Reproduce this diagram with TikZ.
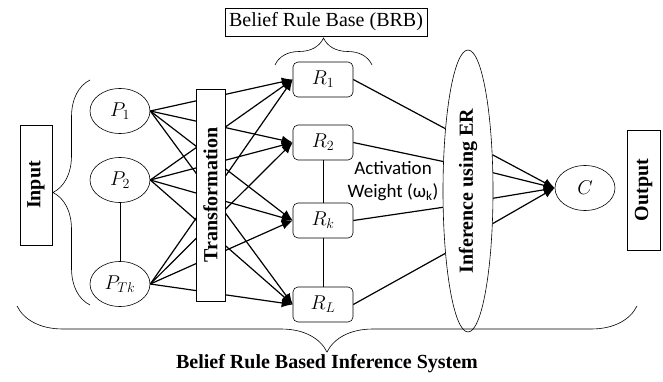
\RequirePackage{fix-cm}
\documentclass[tikz,border=0pt]{standalone}
\usepackage{fontspec}
\setmainfont{Liberation Serif}
\newfontfamily\calfont{Carlito}
\usetikzlibrary{shapes,arrows.meta,decorations.pathreplacing}

\begin{document}
\begin{tikzpicture}[x=10pt,y=10pt,
    font=\fontsize{20}{24}\selectfont,
    pnode/.style={draw, ellipse, line width=0.6pt, minimum width=60pt, minimum height=45pt, inner sep=0pt},
    rnode/.style={draw, rounded corners=5pt, line width=0.6pt, minimum width=60pt, minimum height=35pt, inner sep=0pt},
    sidebox/.style={draw, line width=0.8pt, rotate=90, font=\fontsize{20}{24}\selectfont\bfseries, inner sep=0pt},
    conn/.style={line width=1.2pt},
    arr/.style={conn, -{Latex[length=11pt,width=9pt]}},
    link/.style={line width=0.5pt},
    bigbrace/.style={decorate, decoration={brace, amplitude=#1}, line width=0.6pt}
  ]
  \useasboundingbox (0,0) rectangle (66.3,38.1);

  % rule base label
  \node[draw, line width=0.8pt, inner sep=4pt, minimum height=28pt] (brb) at (32.6,35.9) {Belief Rule Base (BRB)};
  \draw[bigbrace=27pt] (27.5,31.6) -- (37.2,31.6);

  % input side
  \node[sidebox, minimum width=120pt, minimum height=32pt] (input) at (3.6,19.6) {Input};
  \draw[bigbrace=37pt] (9.0,7.6) -- (9.0,30.1);
  \node[pnode] (p1) at (12.0,27.0) {$P_1$};
  \node[pnode] (p2) at (12.0,20.1) {$P_2$};
  \node[pnode] (ptk) at (12.0,9.7) {$P_{Tk}$};
  \draw[link] (p2) -- (ptk);

  % rules
  \node[rnode] (r1) at (32.3,30.15) {$R_1$};
  \node[rnode] (r2) at (32.3,23.85) {$R_2$};
  \node[rnode] (rk) at (32.3,16.05) {$R_k$};
  \node[rnode] (rl) at (32.3,7.65) {$R_L$};
  \draw[link] (r2) -- (rk) -- (rl);

  \foreach \p in {p1,p2,ptk}
    \foreach \r in {r1,r2,rk,rl}
      \draw[arr] (\p.east) -- (\r.west);

  \node[sidebox, fill=white, minimum width=212pt, minimum height=29pt] (trans) at (21.05,18.6) {Transformation};

  % inference
  \node[draw, ellipse, line width=0.6pt, minimum width=50pt, minimum height=282pt, inner sep=0pt] (ier) at (46.8,19.0) {};
  \node[rotate=90, font=\fontsize{20}{24}\selectfont\bfseries] (iertext) at (ier) {Inference using ER};
  \draw[conn] (r1.east) -- (ier.110);
  \draw[conn] (r2.east) -- (ier.130);
  \draw[conn] (rk.east) -- (ier.213);
  \draw[conn] (rl.east) -- (ier.250);
  \node[font=\calfont\fontsize{19}{23}\selectfont, align=center] (actw) at (39.3,20.0) {Activation\\Weight (ω\textsubscript{k})};

  % output
  \node[pnode] (c) at (58.5,19.3) {$C$};
  \foreach \a in {56,36,-16,-53}
    \draw[arr] (ier.\a) -- (c.west);
  \node[sidebox, minimum width=120pt, minimum height=33pt] (output) at (64.35,19.1) {Output};

  % whole system
  \draw[bigbrace=46pt] (63.7,7.5) -- (1.7,7.5);
  \node[font=\fontsize{20}{24}\selectfont\bfseries] (sys) at (32.7,1.7) {Belief Rule Based Inference System};
\end{tikzpicture}
\end{document}
